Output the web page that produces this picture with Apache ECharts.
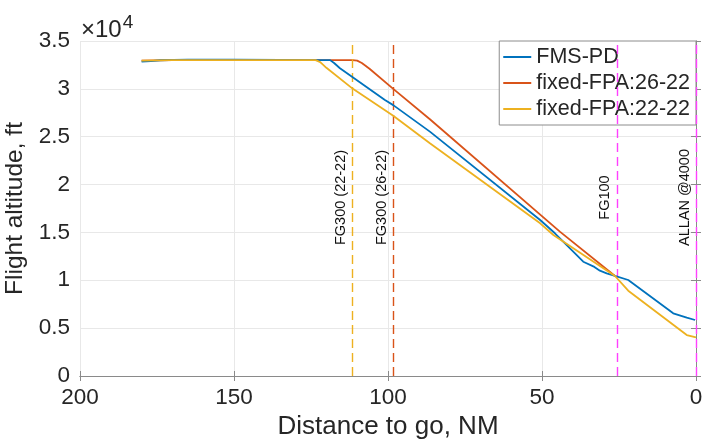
<!DOCTYPE html>
<html>
<head>
<meta charset="utf-8">
<style>
  html, body { margin: 0; padding: 0; background: #fff; }
  #chart { width: 706px; height: 443px; }
</style>
<script src="https://cdn.jsdelivr.net/npm/echarts@6/dist/echarts.min.js"></script>
</head>
<body>
<div id="chart"></div>
<script>
// Distance to go (NM) and altitude (ft) for each descent profile
const fmsDist = [180, 177, 174, 165, 150, 135, 125, 118.8, 117.5, 115.6, 101, 98.3, 86.4, 50.6, 45.8, 36.6, 33, 31.2, 29, 26.3, 22, 7.4, 3, 0.3];
const fmsAlt  = [32850, 32900, 32990, 33050, 33050, 33020, 33000, 33000, 32700, 32150, 28840, 28300, 25530, 16300, 14910, 11940, 11400, 11000, 10730, 10450, 10030, 6550, 6100, 5850];

const fpa2622Dist = [180, 170, 150, 130, 115, 111.5, 110, 108.5, 106, 98.3, 86.4, 44.2, 26.3];
const fpa2622Alt  = [32950, 33000, 33000, 33000, 33000, 33000, 32950, 32700, 32100, 30000, 26820, 15080, 10450];

const fpa2222Dist = [180, 170, 150, 130, 123.5, 122, 120, 111.4, 98.3, 86.4, 50.6, 46.3, 26.3, 22, 3, 0];
const fpa2222Alt  = [32950, 33000, 33000, 33000, 33000, 32800, 32200, 30000, 27200, 24310, 15950, 14730, 10450, 8910, 4280, 4040];

// Reference fixes along the route (distance to go, NM)
const fixNames = ['FG300 (22-22)', 'FG300 (26-22)', 'FG100', 'ALLAN @4000'];
const fixDist  = [111.6, 98.3, 25.7, 0];
const fixColors = ['#EDB120', '#D95319', '#FF40FF', '#FF40FF'];

const seriesNames = ['FMS-PD', 'fixed-FPA:26-22', 'fixed-FPA:22-22'];
const seriesColors = ['#0072BD', '#D95319', '#EDB120'];

const xTicks = [0, 50, 100, 150, 200];
const yTicks = [0, 5000, 10000, 15000, 20000, 25000, 30000, 35000];

const pair = (xs, ys) => xs.map((x, i) => [x, ys[i]]);
const profiles = [pair(fmsDist, fmsAlt), pair(fpa2622Dist, fpa2622Alt), pair(fpa2222Dist, fpa2222Alt)];

const FONT = 'Liberation Sans, Arial, Helvetica, sans-serif';
const TEXT = '#262626';
const AXIS = '#8a8a8a';
const GRIDC = '#e8e8e8';

const xBase = {
  type: 'value', min: xTicks[0], max: xTicks[xTicks.length - 1], interval: 50, inverse: true,
  axisLine: { show: true, lineStyle: { color: AXIS, width: 1 } },
  axisTick: { show: true, inside: true, length: 5, lineStyle: { color: AXIS } }
};
const yBase = {
  type: 'value', min: yTicks[0], max: yTicks[yTicks.length - 1], interval: 5000,
  axisLine: { show: true, lineStyle: { color: AXIS, width: 1 } },
  axisTick: { show: true, inside: true, length: 5, lineStyle: { color: AXIS } }
};

// Vertical dashed markers, each with a rotated caption just left of the line
const markLines = fixNames.map((name, i) => ({
  xAxis: fixDist[i],
  lineStyle: { color: fixColors[i], type: [9, 5], width: 1.4 },
  label: {
    show: true, formatter: name, position: 'insideMiddleTop',
    color: '#111', fontFamily: FONT, fontSize: 14.5, distance: 4,
    padding: [0, 0, 0, 22]
  }
}));

const series = profiles.map((data, i) => ({
  name: seriesNames[i], type: 'line', data: data, showSymbol: false, symbol: 'none',
  lineStyle: { color: seriesColors[i], width: 1.8 }, itemStyle: { color: seriesColors[i] },
  z: 3 + i, silent: true, animation: false
}));
series[0].markLine = {
  silent: true, symbol: ['none', 'none'], animation: false,
  data: markLines
};
series[0].z = 5;

const chart = echarts.init(document.getElementById('chart'), null, { renderer: 'canvas' });
chart.setOption({
  animation: false,
  backgroundColor: '#fff',
  textStyle: { fontFamily: FONT },
  grid: { left: 80, right: 10, top: 41, bottom: 67, containLabel: false, outerBoundsMode: 'none' },
  xAxis: [
    Object.assign({}, xBase, {
      position: 'bottom',
      name: 'Distance to go, NM', nameLocation: 'middle', nameGap: 38,
      nameTextStyle: { color: TEXT, fontSize: 26, fontFamily: FONT },
      axisLabel: { color: TEXT, fontSize: 22.5, fontFamily: FONT, margin: 10 },
      splitLine: { show: true, lineStyle: { color: GRIDC, width: 1 } }
    }),
    Object.assign({}, xBase, {
      position: 'top', axisLabel: { show: false }, splitLine: { show: false }
    })
  ],
  yAxis: [
    Object.assign({}, yBase, {
      position: 'left',
      name: 'Flight altitude, ft', nameLocation: 'middle', nameGap: 48,
      nameTextStyle: { color: TEXT, fontSize: 24.5, fontFamily: FONT },
      axisLabel: { color: TEXT, fontSize: 22.5, fontFamily: FONT, margin: 10,
        formatter: v => String(v / 10000) },
      splitLine: { show: true, lineStyle: { color: GRIDC, width: 1 } }
    }),
    Object.assign({}, yBase, {
      position: 'right', axisLabel: { show: false }, splitLine: { show: false }
    })
  ],
  legend: {
    orient: 'vertical', right: 10, top: 41,
    data: seriesNames, icon: 'rect', itemWidth: 28, itemHeight: 2, itemGap: 4,
    backgroundColor: '#fff', borderColor: '#8c8c8c', borderWidth: 1, borderRadius: 0,
    padding: [5, 6, 5, 4],
    textStyle: { color: TEXT, fontSize: 21.5, fontFamily: FONT },
    selectedMode: false
  },
  graphic: [{
    type: 'text', left: 81, top: 13, silent: true,
    style: {
      text: '{a|×10}{b|4}',
      rich: {
        a: { fontSize: 24, fontFamily: FONT, fill: TEXT, verticalAlign: 'bottom' },
        b: { fontSize: 19, fontFamily: FONT, fill: TEXT, verticalAlign: 'top', padding: [0, 0, 10, 1] }
      }
    }
  }],
  series: series
});
</script>
</body>
</html>
